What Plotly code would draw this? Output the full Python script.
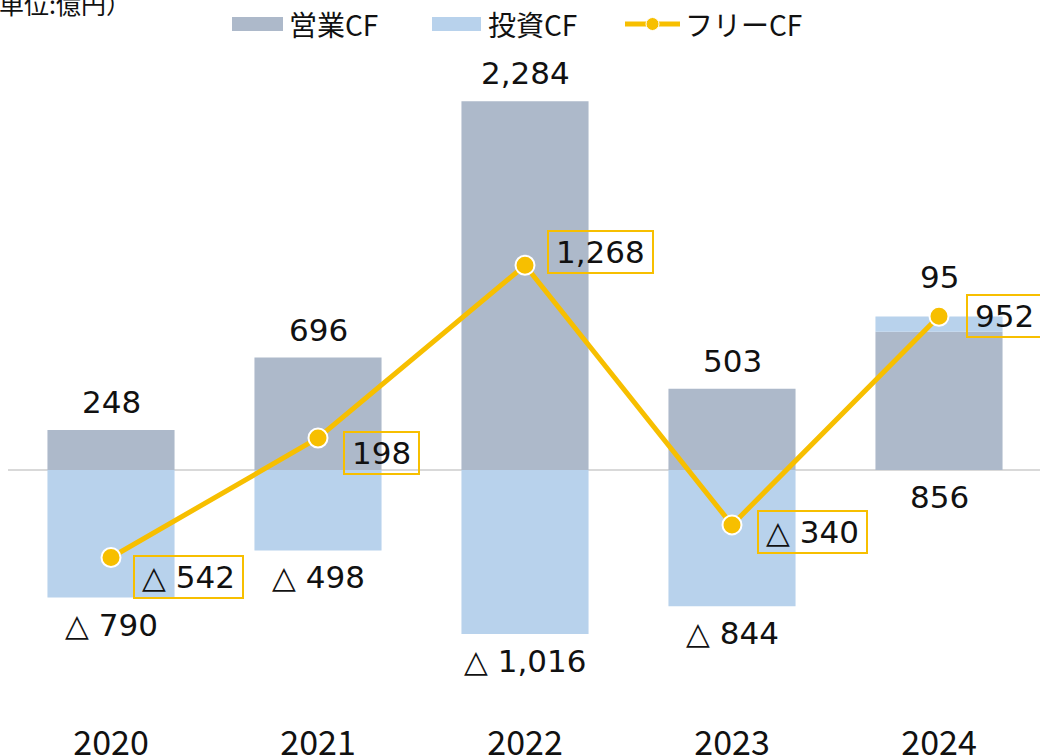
import plotly.graph_objects as go

years = ["2020", "2021", "2022", "2023", "2024"]
operating_cf = [248, 696, 2284, 503, 856]
investing_cf = [-790, -498, -1016, -844, 95]
free_cf = [-542, 198, 1268, -340, 952]

legend_names = ["営業CF", "投資CF", "フリーCF"]
unit_label = "（単位:億円）"

# style
W, H = 1040, 755
ML, MR, MT, MB = 8, 0, 50, 35
C_OP = "#ADB9CA"
C_INV = "#B8D2EC"
C_FREE = "#F7BF00"
NUM_FONT = "DejaVu Sans, Noto Sans CJK JP, sans-serif"
JP_FONT = "Noto Sans CJK JP, DejaVu Sans, sans-serif"
LAB_SIZE = 31

# free CF label box offsets (px) relative to the point
box_dx = [22, 25, 22, 25, 27]
box_dy = [-19, -15, 13, -7, 0]

PW = W - ML - MR
PH = H - MT - MB
zero_px = 470
scale = 0.1615
y_top = (zero_px - MT) / scale
y_bot = -((H - MB) - zero_px) / scale
cat_w = 207.0
x_left = -(111 - ML) / cat_w
x_right = x_left + PW / cat_w


def px2x(px):
    return (px - ML) / PW


def py2y(py):
    return ((H - MB) - py) / PH


def fmt(v):
    s = f"{abs(v):,}"
    return f"△ {s}" if v < 0 else s


def box_width(txt):
    w = 0.0
    for ch in txt:
        if ch.isdigit():
            w += 0.636
        elif ch in ", ":
            w += 0.318
        else:
            w += 0.77
    return w * LAB_SIZE + 10


fig = go.Figure()
fig.add_trace(go.Bar(x=years, y=operating_cf, name=legend_names[0],
                     marker=dict(color=C_OP, line=dict(width=0)),
                     width=0.614, showlegend=False, hoverinfo="y"))
fig.add_trace(go.Bar(x=years, y=investing_cf, name=legend_names[1],
                     marker=dict(color=C_INV, line=dict(width=0)),
                     width=0.614, showlegend=False, hoverinfo="y"))
fig.add_trace(go.Scatter(x=years, y=free_cf, name=legend_names[2], mode="lines+markers",
                         line=dict(color=C_FREE, width=5),
                         marker=dict(size=19, color=C_FREE, line=dict(color="white", width=2)),
                         showlegend=False, hoverinfo="y"))

lab_font = dict(size=LAB_SIZE, family=NUM_FONT, color="#111")
ann = []
for i, yr in enumerate(years):
    op, inv, fr = operating_cf[i], investing_cf[i], free_cf[i]
    if inv < 0:
        ann.append(dict(x=i, y=op, text=fmt(op), showarrow=False, yanchor="bottom", yshift=8,
                        font=lab_font))
        ann.append(dict(x=i, y=inv, text=fmt(inv), showarrow=False, yanchor="top", yshift=-7,
                        font=lab_font))
    else:
        ann.append(dict(x=i, y=0, text=fmt(op), showarrow=False, yanchor="top", yshift=-7,
                        font=lab_font))
        ann.append(dict(x=i, y=op + inv, text=fmt(inv), showarrow=False, yanchor="bottom", yshift=19,
                        font=lab_font))
    t = fmt(fr)
    ann.append(dict(x=i, y=fr, text=t, showarrow=False, xanchor="left", yanchor="middle",
                    xshift=box_dx[i], yshift=box_dy[i], width=box_width(t), align="center",
                    bordercolor=C_FREE, borderwidth=2, borderpad=2,
                    font=lab_font))

# unit label (clipped at top-left like the reference)
ann.append(dict(xref="paper", yref="paper", x=px2x(133), y=py2y(3), text=unit_label,
                showarrow=False, xanchor="right", yanchor="middle",
                font=dict(size=25, family=JP_FONT, color="#111")))

# custom legend
shapes = []
leg_y = 24
shapes.append(dict(type="rect", xref="paper", yref="paper", x0=px2x(232), x1=px2x(283),
                   y0=py2y(leg_y + 7), y1=py2y(leg_y - 7), fillcolor=C_OP, line=dict(width=0)))
shapes.append(dict(type="rect", xref="paper", yref="paper", x0=px2x(432), x1=px2x(481),
                   y0=py2y(leg_y + 7), y1=py2y(leg_y - 7), fillcolor=C_INV, line=dict(width=0)))
shapes.append(dict(type="line", xref="paper", yref="paper", x0=px2x(625), x1=px2x(680),
                   y0=py2y(leg_y), y1=py2y(leg_y), line=dict(color=C_FREE, width=5)))
shapes.append(dict(type="circle", xref="paper", yref="paper", x0=px2x(646), x1=px2x(659),
                   y0=py2y(leg_y + 6.5), y1=py2y(leg_y - 6.5), fillcolor=C_FREE,
                   line=dict(color="white", width=1)))
for px, name in zip([287, 486, 683], legend_names):
    ann.append(dict(xref="paper", yref="paper", x=px2x(px), y=py2y(leg_y), text=name,
                    showarrow=False, xanchor="left", yanchor="middle",
                    font=dict(size=28, family=JP_FONT, color="#111")))

fig.update_layout(
    width=W, height=H,
    margin=dict(l=ML, r=MR, t=MT, b=MB, pad=0, autoexpand=False),
    barmode="relative", bargap=0.386,
    plot_bgcolor="white", paper_bgcolor="white",
    annotations=ann, shapes=shapes,
    xaxis=dict(type="category", range=[x_left, x_right], showgrid=False, showline=False,
               automargin=False, ticks="", tickfont=dict(size=34, family=JP_FONT, color="#111")),
    yaxis=dict(range=[y_bot, y_top], showgrid=False, showticklabels=False, automargin=False,
               zeroline=True, zerolinecolor="#D9D9D9", zerolinewidth=2),
)

fig.write_html("out.html", config={"displayModeBar": False},
               post_script="document.body.style.margin='0';document.body.style.overflow='hidden';")
